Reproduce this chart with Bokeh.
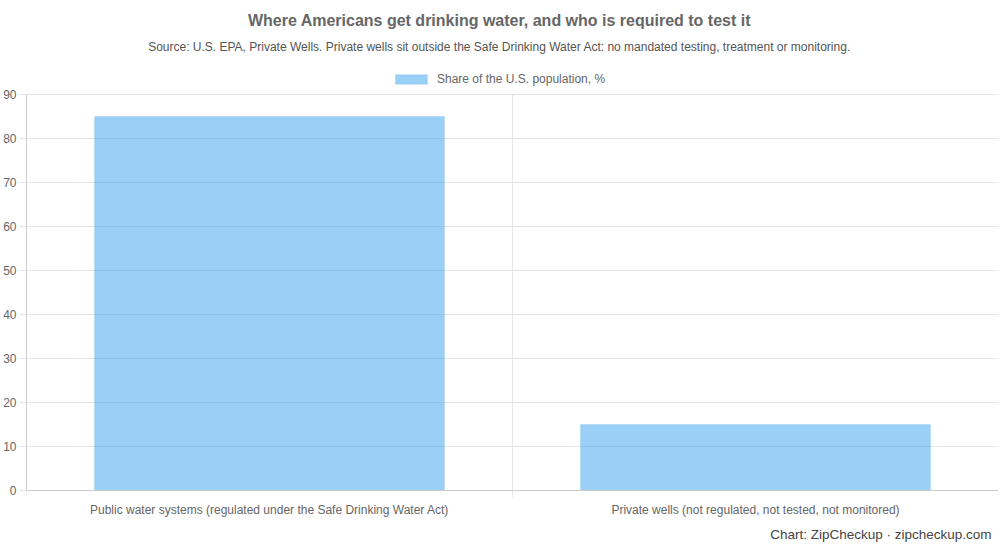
from bokeh.embed import file_html
from bokeh.models import (ColumnDataSource, Label, Legend, LegendItem,
                          SingleIntervalTicker, Span, Title)
from bokeh.plotting import figure
from bokeh.resources import INLINE

categories = [
    "Public water systems (regulated under the Safe Drinking Water Act)",
    "Private wells (not regulated, not tested, not monitored)",
]
shares = [85, 15]
series_name = "Share of the U.S. population, %"

title_text = "Where Americans get drinking water, and who is required to test it"
subtitle_text = ("Source: U.S. EPA, Private Wells. Private wells sit outside the Safe "
                 "Drinking Water Act: no mandated testing, treatment or monitoring.")
footer_text = "Chart: ZipCheckup \u00b7 zipcheckup.com"

Y_MAX = 90
Y_STEP = 10

FONT = "Liberation Sans"
GRID = "#e5e5e5"
AXIS = "#cccccc"
TEXT = "#666666"

# the frame also holds the title block above 90 and the tick stubs below 0
PLOT_H = 396          # px from 0 to 90
STUB = 7              # px of grid line below the axis
FRAME_W, FRAME_H = 972, 497
px_per_unit = PLOT_H / Y_MAX
y_start = -STUB / px_per_unit
y_end = y_start + FRAME_H / px_per_unit

source = ColumnDataSource(data=dict(
    cat=categories,
    share=shares,
    edge=[(c, -0.5) for c in categories],
))

p = figure(x_range=categories, y_range=(y_start, y_end),
           frame_width=FRAME_W, frame_height=FRAME_H,
           output_backend="svg", toolbar_location=None,
           min_border_left=26, min_border_right=0, min_border_top=0, min_border_bottom=8)
p.outline_line_color = None
p.background_fill_color = "white"

# vertical grid lines on the left edge of each category, running past 0
p.segment(x0="edge", y0=y_start, x1="edge", y1=Y_MAX, source=source,
          line_color=GRID, line_width=1)

bars = p.vbar(x="cat", top="share", width=0.72, source=source,
              fill_color="#36A2EB", fill_alpha=0.5, line_color="#36A2EB", line_alpha=0.15)

# x axis line at 0
p.add_layout(Span(location=0, dimension="width", line_color=AXIS, line_width=1))

# y axis
p.yaxis.bounds = (0, Y_MAX)
p.yaxis.ticker = SingleIntervalTicker(interval=Y_STEP)
p.yaxis.minor_tick_line_color = None
p.yaxis.major_tick_in = 0
p.yaxis.major_tick_out = 7
p.yaxis.major_tick_line_color = GRID
p.yaxis.axis_line_color = AXIS
p.yaxis.major_label_text_font = FONT
p.yaxis.major_label_text_font_size = "12px"
p.yaxis.major_label_text_color = TEXT
p.yaxis.major_label_standoff = 3

p.ygrid.grid_line_color = GRID
p.xgrid.grid_line_color = None

# category labels
p.xaxis.axis_line_color = None
p.xaxis.major_tick_line_color = None
p.xaxis.major_tick_out = 0
p.xaxis.major_tick_in = 0
p.xaxis.major_label_standoff = 5
p.xaxis.major_label_text_font = FONT
p.xaxis.major_label_text_font_size = "12px"
p.xaxis.major_label_text_color = TEXT

p.add_layout(Title(text=footer_text, align="right", offset=7, text_font=FONT,
                   text_font_size="13.5px", text_font_style="normal",
                   text_color="#444444", standoff=10), "below")

# title block, in screen px from the frame's bottom-left
p.add_layout(Label(x=473, y=477, x_units="screen", y_units="screen", text=title_text,
                   text_align="center", text_baseline="middle", text_font=FONT,
                   text_font_size="16px", text_font_style="bold", text_color=TEXT))
p.add_layout(Label(x=473, y=451, x_units="screen", y_units="screen", text=subtitle_text,
                   text_align="center", text_baseline="middle", text_font=FONT,
                   text_font_size="12px", text_color="#555555"))

legend = Legend(items=[LegendItem(label=series_name, renderers=[bars])],
                orientation="horizontal", location=(365, 411),
                glyph_width=40, glyph_height=12, label_height=12, label_standoff=6,
                padding=0, margin=0, border_line_color=None, background_fill_alpha=0,
                label_text_font=FONT, label_text_font_size="12px", label_text_color=TEXT)
p.add_layout(legend, "center")

open("out.html", "w").write(file_html(p, INLINE))
